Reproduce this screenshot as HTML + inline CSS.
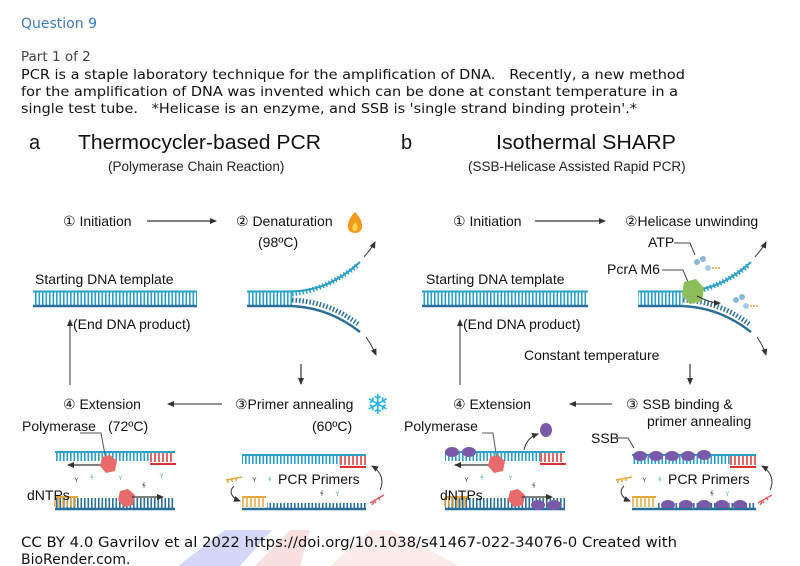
<!DOCTYPE html>
<html><head><meta charset="utf-8"><style>
html,body{margin:0;padding:0;background:#fff;width:800px;height:566px;overflow:hidden}
svg{display:block}
text{white-space:pre}
.t{font-family:"DejaVu Sans",sans-serif;font-size:13.5px;fill:#111}
.d{font-family:"Liberation Sans",sans-serif;font-size:14px;fill:#111}
.h{font-family:"Liberation Sans",sans-serif;font-size:20px;fill:#111}
.s{font-family:"Liberation Sans",sans-serif;font-size:13.5px;fill:#222}
</style></head><body>
<svg width="800" height="566" viewBox="0 0 800 566" xmlns="http://www.w3.org/2000/svg" xml:space="preserve">
<defs>
<pattern id="tk" width="3.5" height="20" patternUnits="userSpaceOnUse"><rect x="0" y="0" width="1.6" height="20" fill="#2aa0c8"/></pattern>
<pattern id="tk2" width="3.5" height="20" patternUnits="userSpaceOnUse"><rect x="0" y="0" width="1.6" height="20" fill="#2b6f99"/></pattern>
<marker id="ar" markerWidth="8" markerHeight="8" refX="6" refY="4" orient="auto" markerUnits="userSpaceOnUse"><path d="M0,1 L7,4 L0,7z" fill="#333"/></marker>
</defs>
<polygon points="178,566 225,530 272,530 240,566" fill="#d4d7f7"/>
<polygon points="255,566 290,530 310,530 300,566" fill="#f9e0e0"/>
<polygon points="330,566 370,530 390,530 460,566" fill="#fbecec"/>

<text x="21" y="28" style="font-family:'DejaVu Sans',sans-serif;font-size:14px;fill:#3f7cb8">Question 9</text>
<text x="21" y="61" class="t" style="fill:#444">Part 1 of 2</text>
<text x="21" y="79" class="t" textLength="664" lengthAdjust="spacingAndGlyphs">PCR is a staple laboratory technique for the amplification of DNA.   Recently, a new method</text>
<text x="21" y="96" class="t" textLength="657" lengthAdjust="spacingAndGlyphs">for the amplification of DNA was invented which can be done at constant temperature in a</text>
<text x="21" y="113" class="t" textLength="616" lengthAdjust="spacingAndGlyphs">single test tube.   *Helicase is an enzyme, and SSB is 'single strand binding protein'.*</text>

<text x="29" y="149" class="h">a</text>
<text x="78" y="149" class="h" textLength="243" lengthAdjust="spacingAndGlyphs">Thermocycler-based PCR</text>
<text x="108" y="171" class="s">(Polymerase Chain Reaction)</text>
<text x="401" y="149" class="h">b</text>
<text x="496" y="149" class="h" textLength="180" lengthAdjust="spacingAndGlyphs">Isothermal SHARP</text>
<text x="468" y="171" class="s">(SSB-Helicase Assisted Rapid PCR)</text>

<text x="63" y="226" class="d">① Initiation</text>
<line x1="147" y1="221" x2="216" y2="221" stroke="#333" stroke-width="1.2" marker-end="url(#ar)"/>
<text x="236" y="226" class="d">② Denaturation</text>
<text x="258" y="247" class="d">(98ºC)</text>
<path d="M355,212 C345,222 346,233 355,233 C364,233 365,222 355,212z" fill="#f39a1c"/>
<path d="M355,222 C351,226 352,231 355,231 C358,231 359,226 355,222z" fill="#ffd24a"/>
<text x="35" y="284" class="d">Starting DNA template</text>
<rect x="33" y="292" width="164" height="14" fill="url(#tk)"/>
<line x1="33" y1="291.5" x2="197" y2="291.5" stroke="#2aa0c8" stroke-width="2"/>
<line x1="33" y1="306" x2="197" y2="306" stroke="#2b6f99" stroke-width="2.5"/>
<line x1="70" y1="385" x2="70" y2="320" stroke="#555" stroke-width="1.2" marker-end="url(#ar)"/>
<text x="73" y="329" class="d">(End DNA product)</text>
<rect x="247" y="292" width="45" height="14" fill="url(#tk)"/>
<path d="M247,291.5 L290,291.5 C320,291 340,280 360,262" stroke="#2aa0c8" stroke-width="2" fill="none"/>
<path d="M292,291 C318,288 340,276 358,262" stroke="#2aa0c8" stroke-width="5" stroke-dasharray="1.5 2" fill="none" transform="translate(0,3)"/>
<path d="M247,306 L290,306 C320,307 342,318 360,332" stroke="#2b6f99" stroke-width="2.5" fill="none"/>
<path d="M292,304 C318,305 340,314 358,328" stroke="#2b6f99" stroke-width="5" stroke-dasharray="1.5 2" fill="none" transform="translate(0,-4)"/>
<path d="M364,257 C368,252 372,248 375,242" stroke="#333" stroke-width="1" fill="none" marker-end="url(#ar)"/>
<path d="M366,337 C370,343 373,348 376,355" stroke="#333" stroke-width="1" fill="none" marker-end="url(#ar)"/>
<line x1="301" y1="364" x2="301" y2="384" stroke="#333" stroke-width="1.2" marker-end="url(#ar)"/>
<text x="63" y="409" class="d">④ Extension</text>
<line x1="222" y1="404" x2="168" y2="404" stroke="#555" stroke-width="1.2" marker-end="url(#ar)"/>
<text x="108" y="431" class="d">(72ºC)</text>
<text x="22" y="431" class="d">Polymerase</text>
<text x="235" y="409" class="d">③Primer annealing</text>
<text x="312" y="431" class="d">(60ºC)</text>
<text x="366" y="414" style="font-family:'DejaVu Sans',sans-serif;font-size:28px;fill:#2ab3e6">❄</text>
<line x1="55" y1="452" x2="175" y2="452" stroke="#2aa0c8" stroke-width="2"/>
<rect x="55" y="453" width="95" height="8" fill="url(#tk)"/>
<path d="M151,453 v9 M155,453 v9 M159,453 v9 M163,453 v9 M167,453 v9 M171,453 v9" stroke="#d33" stroke-width="1.5"/>
<line x1="150" y1="464" x2="176" y2="464" stroke="#d33" stroke-width="2"/>
<line x1="108" y1="465" x2="68" y2="465" stroke="#333" stroke-width="1.2" marker-end="url(#ar)"/>
<polyline points="80,433 101,433 106,460" stroke="#555" fill="none" stroke-width="1"/>
<polygon points="102,457 110,455 117,461 115,471 106,473 100,466" fill="#e96a6a"/>
<rect x="55" y="498" width="120" height="10" fill="url(#tk2)"/>
<path d="M55,498 v9 M59,498 v9 M63,498 v9 M67,498 v9 M71,498 v9 M75,498 v9" stroke="#e5a83a" stroke-width="1.5"/>
<line x1="55" y1="497" x2="78" y2="497" stroke="#e5a83a" stroke-width="2"/>
<line x1="55" y1="509" x2="175" y2="509" stroke="#2b6f99" stroke-width="2.5"/>
<polygon points="120,491 128,489 135,495 133,505 124,507 118,500" fill="#e96a6a"/>
<line x1="132" y1="497" x2="163" y2="497" stroke="#333" stroke-width="1.2" marker-end="url(#ar)"/>
<text x="27" y="500" class="d">dNTPs</text>
<line x1="242" y1="455" x2="366" y2="455" stroke="#2aa0c8" stroke-width="2"/>
<rect x="242" y="456" width="98" height="8" fill="url(#tk)"/>
<path d="M341,456 v9 M345,456 v9 M349,456 v9 M353,456 v9 M357,456 v9 M361,456 v9 M365,456 v9" stroke="#d33" stroke-width="1.5"/>
<line x1="340" y1="467" x2="366" y2="467" stroke="#d33" stroke-width="2"/>
<text x="278" y="484" class="d">PCR Primers</text>
<path d="M380,490 C384,482 382,472 372,466" stroke="#333" fill="none" stroke-width="1" marker-end="url(#ar)"/>
<path d="M370,503 l14,-8 M372,505 l2,-3 M376,503 l-2,-3 M380,500 l-2,-3" stroke="#d66" stroke-width="1.5"/>
<path d="M226,480 l16,-3 M228,483 v-3 M232,482 v-3 M236,481 v-3" stroke="#e5a83a" stroke-width="1.5"/>
<path d="M234,486 C228,492 232,498 240,501" stroke="#333" fill="none" stroke-width="1" marker-end="url(#ar)"/>
<line x1="242" y1="497" x2="266" y2="497" stroke="#e5a83a" stroke-width="2"/>
<path d="M243,498 v9 M247,498 v9 M251,498 v9 M255,498 v9 M259,498 v9 M263,498 v9" stroke="#e5a83a" stroke-width="1.5"/>
<rect x="267" y="503" width="99" height="5" fill="url(#tk2)"/>
<line x1="242" y1="509" x2="366" y2="509" stroke="#2b6f99" stroke-width="2.5"/>
<g font-size="8" font-family="DejaVu Sans">
<text x="74" y="482" fill="#555">ʏ</text><text x="90" y="480" fill="#7bc">ɬ</text><text x="118" y="480" fill="#7bc">ʏ</text><text x="159" y="478" fill="#7bc">ʏ</text><text x="142" y="488" fill="#555">ɬ</text>
<text x="252" y="482" fill="#555">ʏ</text><text x="268" y="482" fill="#7bc">ɬ</text><text x="320" y="496" fill="#555">ɬ</text><text x="335" y="496" fill="#7bc">ʏ</text>
<text x="464" y="482" fill="#555">ʏ</text><text x="480" y="480" fill="#7bc">ɬ</text><text x="508" y="480" fill="#7bc">ʏ</text><text x="532" y="488" fill="#555">ɬ</text>
<text x="642" y="482" fill="#555">ʏ</text><text x="658" y="482" fill="#7bc">ɬ</text><text x="710" y="496" fill="#555">ɬ</text><text x="725" y="496" fill="#7bc">ʏ</text>
</g>

<text x="453" y="226" class="d">① Initiation</text>
<line x1="535" y1="221" x2="605" y2="221" stroke="#333" stroke-width="1.2" marker-end="url(#ar)"/>
<text x="625" y="226" class="d">②Helicase unwinding</text>
<text x="648" y="247" class="d">ATP</text>
<polyline points="674,243 690,243 695,255" stroke="#444" fill="none" stroke-width="1"/>
<text x="607" y="274" class="d">PcrA M6</text>
<polyline points="662,270 683,270 688,282" stroke="#444" fill="none" stroke-width="1"/>
<circle cx="697" cy="262" r="3" fill="#8ab8d8"/><circle cx="703" cy="259" r="3" fill="#8ab8d8"/><circle cx="708" cy="268" r="3" fill="#a8cce6"/>
<line x1="712" y1="268" x2="720" y2="268" stroke="#f0a040" stroke-width="1.5" stroke-dasharray="2 1"/>
<circle cx="736" cy="300" r="3" fill="#8ab8d8"/><circle cx="742" cy="297" r="3" fill="#8ab8d8"/><circle cx="746" cy="306" r="3" fill="#a8cce6"/>
<line x1="750" y1="306" x2="758" y2="306" stroke="#f0a040" stroke-width="1.5" stroke-dasharray="2 1"/>
<text x="426" y="284" class="d">Starting DNA template</text>
<rect x="422" y="292" width="166" height="14" fill="url(#tk)"/>
<line x1="422" y1="291.5" x2="588" y2="291.5" stroke="#2aa0c8" stroke-width="2"/>
<line x1="422" y1="306" x2="588" y2="306" stroke="#2b6f99" stroke-width="2.5"/>
<line x1="460" y1="385" x2="460" y2="320" stroke="#555" stroke-width="1.2" marker-end="url(#ar)"/>
<text x="463" y="329" class="d">(End DNA product)</text>
<rect x="638" y="292" width="45" height="14" fill="url(#tk)"/>
<path d="M638,291.5 L681,291.5 C711,291 731,280 751,262" stroke="#2aa0c8" stroke-width="2" fill="none"/>
<path d="M683,291 C709,288 731,276 749,262" stroke="#2aa0c8" stroke-width="5" stroke-dasharray="1.5 2" fill="none" transform="translate(0,3)"/>
<path d="M638,306 L681,306 C711,307 733,318 751,332" stroke="#2b6f99" stroke-width="2.5" fill="none"/>
<path d="M683,304 C709,305 731,314 749,328" stroke="#2b6f99" stroke-width="5" stroke-dasharray="1.5 2" fill="none" transform="translate(0,-4)"/>
<polygon points="684,282 696,279 704,288 702,301 690,304 682,295" fill="#8cbf5a"/>
<path d="M697,296 C705,300 712,303 720,303" stroke="#333" fill="none" stroke-width="1" marker-end="url(#ar)"/>
<path d="M755,257 C759,252 763,248 766,242" stroke="#333" stroke-width="1" fill="none" marker-end="url(#ar)"/>
<path d="M757,337 C761,343 764,348 766,355" stroke="#333" stroke-width="1" fill="none" marker-end="url(#ar)"/>
<text x="524" y="360" class="d">Constant temperature</text>
<line x1="690" y1="364" x2="690" y2="384" stroke="#333" stroke-width="1.2" marker-end="url(#ar)"/>
<text x="453" y="409" class="d">④ Extension</text>
<line x1="612" y1="404" x2="570" y2="404" stroke="#555" stroke-width="1.2" marker-end="url(#ar)"/>
<text x="626" y="409" class="d">③ SSB binding &amp;</text>
<text x="647" y="426" class="d">primer annealing</text>
<text x="404" y="431" class="d">Polymerase</text>
<polyline points="482,433 493,433 497,460" stroke="#555" fill="none" stroke-width="1"/>
<text x="591" y="443" class="d">SSB</text>
<polyline points="617,438 628,438 634,448" stroke="#444" fill="none" stroke-width="1"/>
<line x1="445" y1="452" x2="565" y2="452" stroke="#2aa0c8" stroke-width="2"/>
<rect x="445" y="453" width="95" height="8" fill="url(#tk)"/>
<path d="M541,453 v9 M545,453 v9 M549,453 v9 M553,453 v9 M557,453 v9 M561,453 v9" stroke="#d33" stroke-width="1.5"/>
<line x1="540" y1="464" x2="566" y2="464" stroke="#d33" stroke-width="2"/>
<ellipse cx="452" cy="452" rx="7" ry="5" fill="#7a5aa8"/><ellipse cx="469" cy="452" rx="7" ry="5" fill="#7a5aa8"/>
<ellipse cx="546" cy="430" rx="6" ry="7" fill="#7a5aa8"/>
<path d="M524,450 C526,440 532,436 538,434" stroke="#333" fill="none" stroke-width="1" marker-end="url(#ar)"/>
<line x1="495" y1="465" x2="455" y2="465" stroke="#333" stroke-width="1.2" marker-end="url(#ar)"/>
<polygon points="490,457 498,455 505,461 503,471 494,473 488,466" fill="#e96a6a"/>
<rect x="445" y="498" width="120" height="10" fill="url(#tk2)"/>
<path d="M445,498 v9 M449,498 v9 M453,498 v9 M457,498 v9 M461,498 v9 M465,498 v9" stroke="#e5a83a" stroke-width="1.5"/>
<line x1="445" y1="497" x2="468" y2="497" stroke="#e5a83a" stroke-width="2"/>
<line x1="445" y1="509" x2="565" y2="509" stroke="#2b6f99" stroke-width="2.5"/>
<g fill="#7a5aa8"><ellipse cx="538" cy="505" rx="7" ry="5"/><ellipse cx="554" cy="505" rx="7" ry="5"/></g>
<polygon points="510,491 518,489 525,495 523,505 514,507 508,500" fill="#e96a6a"/>
<line x1="522" y1="497" x2="552" y2="497" stroke="#333" stroke-width="1.2" marker-end="url(#ar)"/>
<text x="440" y="500" class="d">dNTPs</text>
<line x1="632" y1="455" x2="756" y2="455" stroke="#2aa0c8" stroke-width="2"/>
<rect x="632" y="456" width="98" height="8" fill="url(#tk)"/>
<g fill="#7a5aa8"><ellipse cx="640" cy="456" rx="7" ry="5"/><ellipse cx="656" cy="456" rx="7" ry="5"/><ellipse cx="672" cy="456" rx="7" ry="5"/><ellipse cx="688" cy="456" rx="7" ry="5"/><ellipse cx="704" cy="455" rx="7" ry="5"/></g>
<path d="M731,456 v9 M735,456 v9 M739,456 v9 M743,456 v9 M747,456 v9 M751,456 v9 M755,456 v9" stroke="#d33" stroke-width="1.5"/>
<line x1="730" y1="467" x2="756" y2="467" stroke="#d33" stroke-width="2"/>
<text x="668" y="484" class="d">PCR Primers</text>
<path d="M770,490 C774,482 772,472 762,466" stroke="#333" fill="none" stroke-width="1" marker-end="url(#ar)"/>
<path d="M758,503 l14,-8 M760,505 l2,-3 M764,503 l-2,-3 M768,500 l-2,-3" stroke="#d66" stroke-width="1.5"/>
<path d="M616,480 l16,-3 M618,483 v-3 M622,482 v-3 M626,481 v-3" stroke="#e5a83a" stroke-width="1.5"/>
<path d="M624,486 C618,492 622,498 630,501" stroke="#333" fill="none" stroke-width="1" marker-end="url(#ar)"/>
<line x1="632" y1="497" x2="656" y2="497" stroke="#e5a83a" stroke-width="2"/>
<path d="M633,498 v9 M637,498 v9 M641,498 v9 M645,498 v9 M649,498 v9 M653,498 v9" stroke="#e5a83a" stroke-width="1.5"/>
<rect x="657" y="503" width="99" height="5" fill="url(#tk2)"/>
<g fill="#7a5aa8"><ellipse cx="668" cy="505" rx="7" ry="5"/><ellipse cx="686" cy="505" rx="7" ry="5"/><ellipse cx="704" cy="505" rx="7" ry="5"/><ellipse cx="722" cy="505" rx="7" ry="5"/><ellipse cx="740" cy="505" rx="7" ry="5"/></g>
<line x1="632" y1="509" x2="756" y2="509" stroke="#2b6f99" stroke-width="2.5"/>

<text x="21" y="547" class="t" style="font-size:14px" textLength="656" lengthAdjust="spacingAndGlyphs">CC BY 4.0 Gavrilov et al 2022 https://doi.org/10.1038/s41467-022-34076-0 Created with</text>
<text x="21" y="564" class="t" style="font-size:14px">BioRender.com.</text>
</svg>
</body></html>
